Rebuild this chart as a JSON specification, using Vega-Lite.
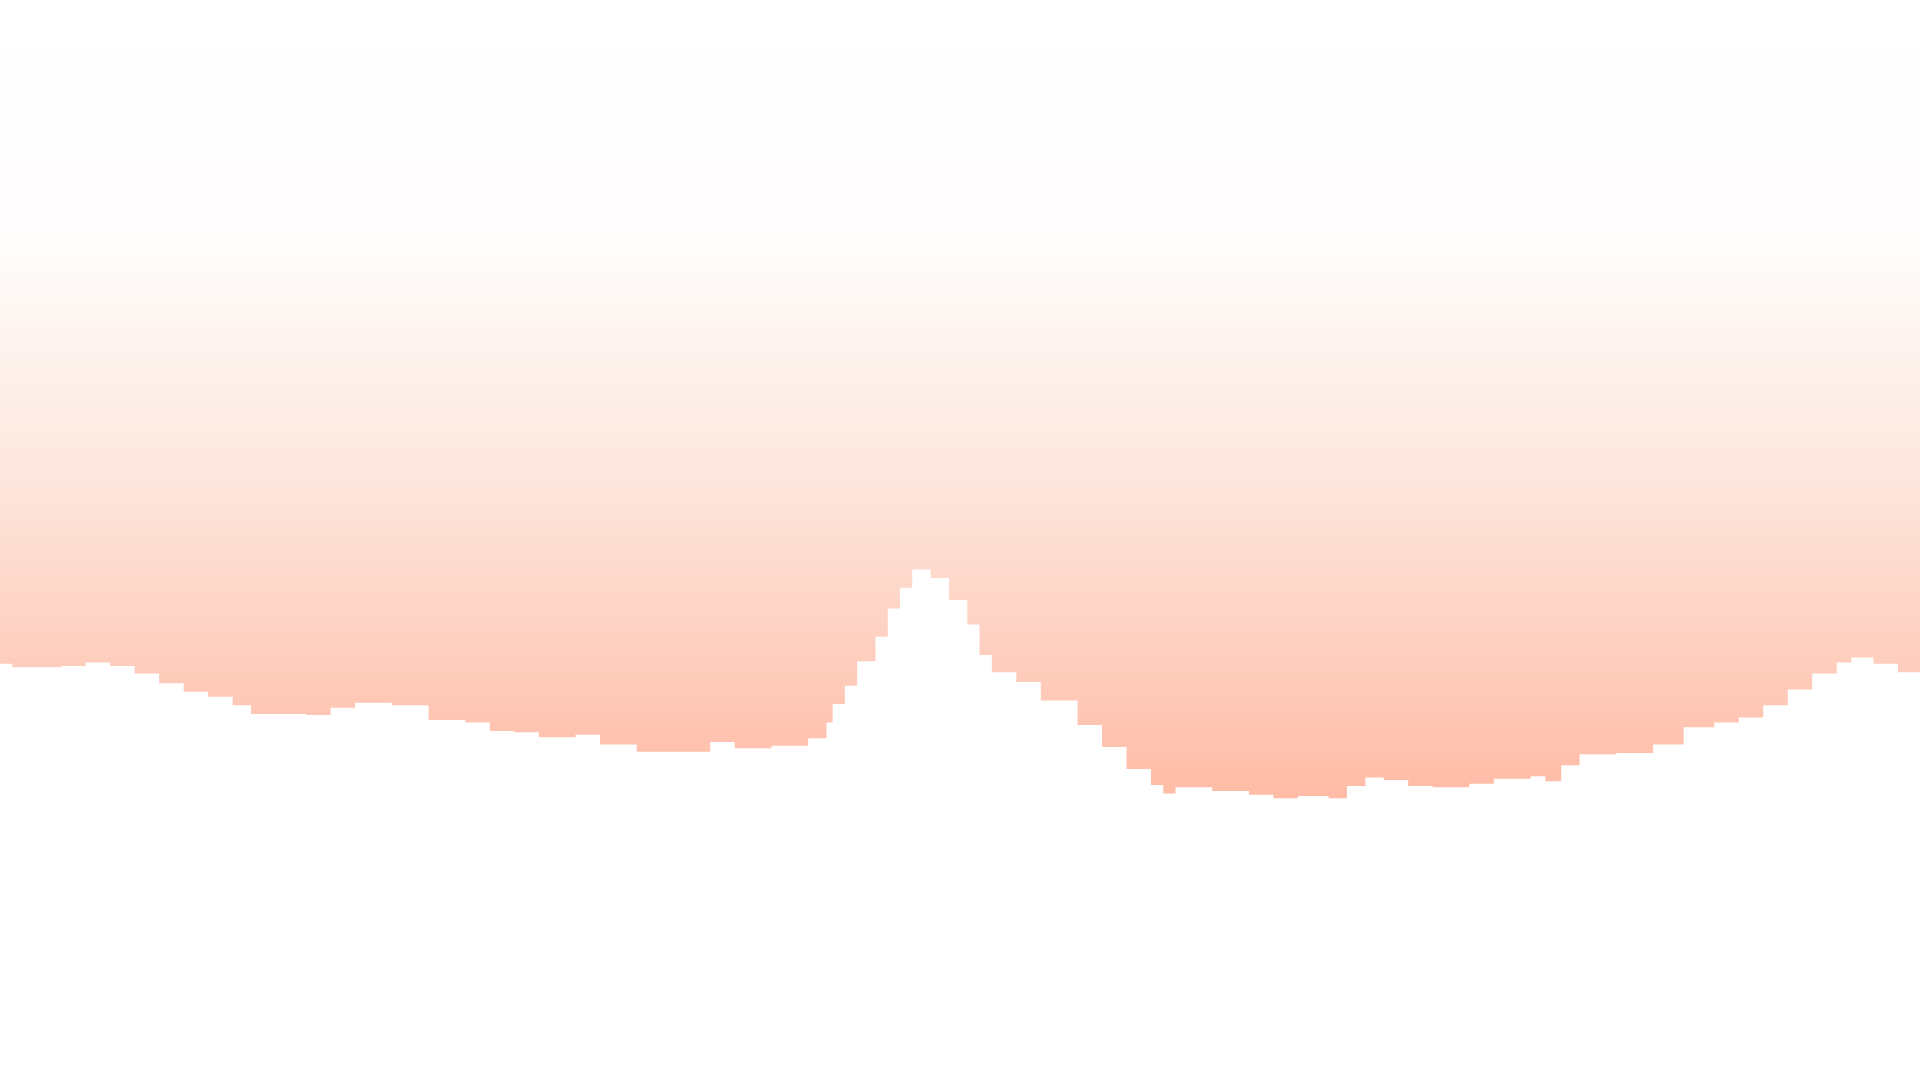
{"$schema":"https://vega.github.io/schema/vega-lite/v6.json","width":1920,"height":1080,"autosize":{"type":"fit","contains":"padding"},"padding":0,"background":"white","config":{"view":{"stroke":null}},
"data":{"values":[
{"x":0,"y":542},{"x":10,"y":545},{"x":50,"y":544},{"x":70,"y":541},{"x":90,"y":544},{"x":110,"y":550},{"x":130,"y":558},{"x":150,"y":565},{"x":170,"y":569},{"x":190,"y":576},{"x":205,"y":583},{"x":250,"y":584},{"x":270,"y":578},{"x":290,"y":574},{"x":320,"y":576},{"x":350,"y":588},{"x":380,"y":590},{"x":400,"y":597},{"x":420,"y":598},{"x":440,"y":602},{"x":470,"y":600},{"x":490,"y":608},{"x":520,"y":614},{"x":560,"y":614},{"x":580,"y":606},{"x":600,"y":611},{"x":630,"y":609},{"x":660,"y":603},{"x":675,"y":590},{"x":680,"y":575},{"x":690,"y":560},{"x":700,"y":540},{"x":715,"y":520},{"x":725,"y":497},{"x":735,"y":480},{"x":745,"y":465},{"x":760,"y":472},{"x":775,"y":490},{"x":790,"y":510},{"x":800,"y":535},{"x":810,"y":549},{"x":830,"y":557},{"x":850,"y":572},{"x":880,"y":592},{"x":900,"y":610},{"x":920,"y":628},{"x":940,"y":641},{"x":950,"y":648},{"x":960,"y":643},{"x":990,"y":646},{"x":1020,"y":649},{"x":1040,"y":652},{"x":1060,"y":650},{"x":1085,"y":652},{"x":1100,"y":642},{"x":1115,"y":635},{"x":1130,"y":637},{"x":1150,"y":642},{"x":1170,"y":643},{"x":1200,"y":640},{"x":1220,"y":636},{"x":1250,"y":634},{"x":1262,"y":638},{"x":1275,"y":625},{"x":1290,"y":616},{"x":1320,"y":615},{"x":1350,"y":608},{"x":1375,"y":594},{"x":1400,"y":590},{"x":1420,"y":586},{"x":1440,"y":576},{"x":1460,"y":563},{"x":1480,"y":550},{"x":1500,"y":541},{"x":1512,"y":537},{"x":1530,"y":542},{"x":1550,"y":549},{"x":1568,"y":556}
]},
"mark":{"type":"area","interpolate":"step-after","fill":{"gradient":"linear","x1":0,"y1":0,"x2":0,"y2":1,"stops":[{"offset":0,"color":"#ffffff"},{"offset":0.3,"color":"#fffdfc"},{"offset":0.6,"color":"#fde6dd"},{"offset":1,"color":"#ffbba5"}]}},
"encoding":{
"x":{"field":"x","type":"quantitative","scale":{"domain":[0,1568],"nice":false,"zero":false},"axis":null},
"y":{"field":"y","type":"quantitative","scale":{"domain":[882,0],"nice":false,"zero":false},"axis":null},
"y2":{"datum":0}
}}
